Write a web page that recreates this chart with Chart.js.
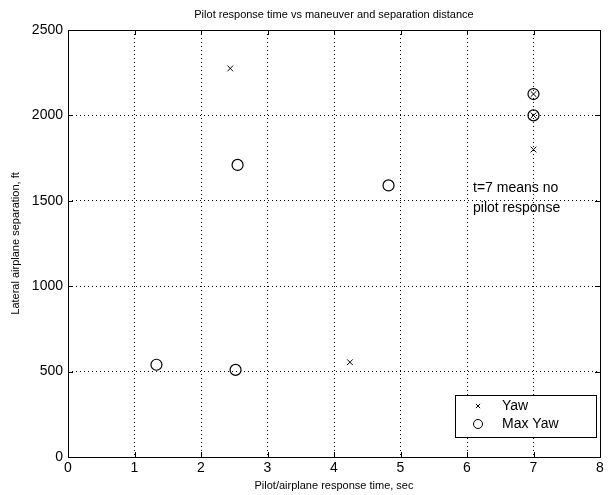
<!DOCTYPE html>
<html>
<head>
<meta charset="utf-8">
<script src="https://cdn.jsdelivr.net/npm/chart.js@4.4.0/dist/chart.umd.min.js"></script>
<style>
  html, body { margin: 0; padding: 0; background: #fff; }
  #wrap { width: 609px; height: 495px; }
</style>
</head>
<body>
<div id="wrap"><canvas id="c" width="609" height="495"></canvas></div>
<script>
// data
const yawX = [2.44, 4.24, 7, 7, 7];
const yawY = [2275, 555, 2125, 2000, 1800];
const maxYawX = [1.33, 2.52, 2.55, 4.82, 7, 7];
const maxYawY = [540, 510, 1710, 1590, 2125, 2000];
const xTicks = [0, 1, 2, 3, 4, 5, 6, 7, 8];
const yTicks = [0, 500, 1000, 1500, 2000, 2500];
const seriesNames = ['Yaw', 'Max Yaw'];

const FONT = 'Liberation Sans, Arial, Helvetica, sans-serif';

function pts(xs, ys) {
  return xs.map((x, i) => ({ x: x, y: ys[i] }));
}

// frame, inward ticks, title, note and legend
const matlabLook = {
  id: 'matlabLook',
  afterDraw(chart) {
    const ctx = chart.ctx;
    const a = chart.chartArea;
    const xs = chart.scales.x, ys = chart.scales.y;
    ctx.save();
    ctx.strokeStyle = '#000';
    ctx.lineWidth = 1;
    ctx.strokeRect(Math.round(a.left) + 0.5, Math.round(a.top) + 0.5,
      Math.round(a.right - a.left), Math.round(a.bottom - a.top));
    ctx.beginPath();
    xTicks.forEach(t => {
      const px = Math.round(xs.getPixelForValue(t)) + 0.5;
      ctx.moveTo(px, a.bottom); ctx.lineTo(px, a.bottom - 5);
      ctx.moveTo(px, a.top); ctx.lineTo(px, a.top + 5);
    });
    yTicks.forEach(t => {
      const py = Math.round(ys.getPixelForValue(t)) + 0.5;
      ctx.moveTo(a.left, py); ctx.lineTo(a.left + 5, py);
      ctx.moveTo(a.right, py); ctx.lineTo(a.right - 5, py);
    });
    ctx.stroke();

    ctx.fillStyle = '#000';
    ctx.font = '11px ' + FONT;
    ctx.textAlign = 'center';
    ctx.textBaseline = 'middle';
    ctx.fillText('Pilot response time vs maneuver and separation distance', (a.left + a.right) / 2, 15);

    ctx.font = '14px ' + FONT;
    ctx.textAlign = 'left';
    ctx.fillText('t=7 means no', 473, 188);
    ctx.fillText('pilot response', 473, 208);

    // legend
    const lx = 455, ly = 395, lw = 141, lh = 42;
    ctx.fillStyle = '#fff';
    ctx.fillRect(lx, ly, lw, lh);
    ctx.strokeRect(lx + 0.5, ly + 0.5, lw, lh);
    seriesNames.forEach((name, i) => {
      const ds = chart.data.datasets[i];
      const cy = ly + 11 + i * 18;
      ctx.fillStyle = 'rgba(0,0,0,0)';
      ctx.strokeStyle = '#000';
      ctx.lineWidth = 1;
      Chart.helpers.drawPoint(ctx, {
        pointStyle: ds.pointStyle, radius: ds.pointRadius - 1, borderWidth: 1
      }, 478, cy);
      ctx.fillStyle = '#000';
      ctx.fillText(name, 502, cy);
    });
    ctx.restore();
  }
};

new Chart(document.getElementById('c'), {
  type: 'scatter',
  data: {
    datasets: [
      {
        label: seriesNames[0],
        data: pts(yawX, yawY),
        pointStyle: 'crossRot',
        pointRadius: 4,
        borderColor: '#000',
        backgroundColor: 'transparent',
        borderWidth: 1
      },
      {
        label: seriesNames[1],
        data: pts(maxYawX, maxYawY),
        pointStyle: 'circle',
        pointRadius: 5.5,
        borderColor: '#000',
        backgroundColor: 'transparent',
        borderWidth: 1.2
      }
    ]
  },
  options: {
    responsive: false,
    animation: false,
    layout: { padding: { top: 30, right: 9, left: 0, bottom: 0 } },
    plugins: {
      legend: { display: false },
      tooltip: { enabled: false }
    },
    scales: {
      x: {
        type: 'linear',
        min: 0, max: 8,
        afterBuildTicks: s => { s.ticks = xTicks.map(v => ({ value: v })); },
        afterFit: s => { s.height = 38; },
        grid: { color: '#000', lineWidth: 1, drawTicks: false },
        border: { display: false, dash: [1, 3] },
        ticks: { color: '#000', font: { family: FONT, size: 14 }, padding: 3, maxRotation: 0,
          callback: v => String(v) },
        title: { display: true, text: 'Pilot/airplane response time, sec', color: '#000',
          font: { family: FONT, size: 11 }, padding: { top: 0, bottom: 2 } }
      },
      y: {
        type: 'linear',
        min: 0, max: 2500,
        afterBuildTicks: s => { s.ticks = yTicks.map(v => ({ value: v })); },
        afterFit: s => { s.width = 68; },
        grid: { color: '#000', lineWidth: 1, drawTicks: false },
        border: { display: false, dash: [1, 3] },
        ticks: { color: '#000', font: { family: FONT, size: 14 }, padding: 5,
          callback: v => String(v) },
        title: { display: true, text: 'Lateral airplane separation, ft', color: '#000',
          font: { family: FONT, size: 11 }, padding: { top: 9, bottom: 0 } }
      }
    }
  },
  plugins: [matlabLook]
});
</script>
</body>
</html>
